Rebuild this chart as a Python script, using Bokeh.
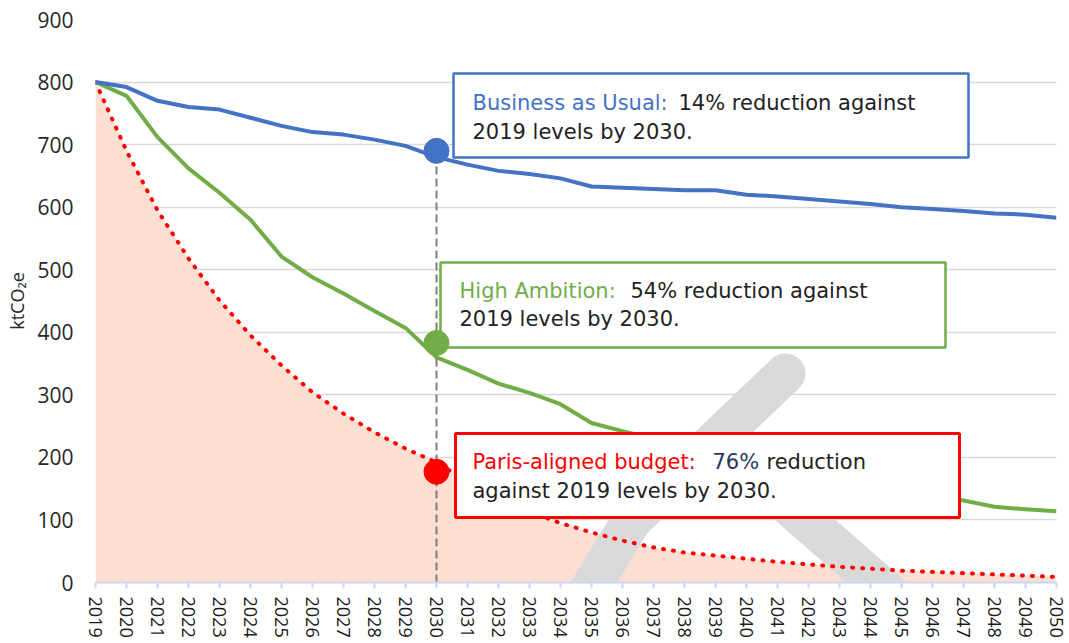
import numpy as np
from bokeh.plotting import figure
from bokeh.models import Range1d, FixedTicker, Label, BoxAnnotation
from bokeh.embed import file_html
from bokeh.resources import INLINE

# ---------------- data ----------------
years = list(range(2019, 2051))
business_as_usual = [800, 792, 770, 760, 756, 743, 730, 720, 716, 708, 698, 680, 668, 658, 653, 646,
                     633, 631, 629, 627, 627, 620, 617, 613, 609, 605, 600, 597, 594, 590, 588, 583]
high_ambition = [800, 778, 712, 662, 623, 580, 521, 488, 462, 434, 407, 360, 340, 318, 303, 285,
                 255, 242, 230, 219, 208, 198, 188, 178, 168, 158, 149, 140, 131, 121, 117, 114]
paris_budget = [800, 690, 595, 518, 451, 395, 347, 304, 270, 240, 214, 192, 161, 135, 113, 95,
                80, 67, 56, 48, 43, 38, 33, 29, 25, 22, 19, 17, 15, 13, 11, 9]
marker_year = 2030
marker_values = [690, 383, 177]          # BAU, High Ambition, Paris
y_ticks = list(range(0, 1000, 100))

# ---------------- layout helpers (page pixels -> data) ----------------
W, H = 1069, 643
FRAME_L, FRAME_R, FRAME_T, FRAME_B = 95, 1056, 19, 582
X0, X1, Y0, Y1 = 2019, 2050, 0, 900


def px_x(px):
    return X0 + (px - FRAME_L) * (X1 - X0) / (FRAME_R - FRAME_L)


def px_y(py):
    return Y0 + (FRAME_B - py) * (Y1 - Y0) / (FRAME_B - FRAME_T)


BLUE, GREEN, RED = "#4472C4", "#70AD47", "#FF0000"
DARK, NAVY = "#222222", "#1F3864"
PINK, GREY = "#FCDFD2", "#D9D9D9"

p = figure(width=W, height=H, x_range=Range1d(X0, X1), y_range=Range1d(Y0, Y1),
           output_backend="svg", toolbar_location=None,
           min_border_left=FRAME_L, min_border_right=W - FRAME_R,
           min_border_top=FRAME_T, min_border_bottom=H - FRAME_B)
p.outline_line_color = None
p.background_fill_color = "white"
p.border_fill_color = "white"

p.xgrid.grid_line_color = None
p.ygrid.grid_line_color = GREY
p.ygrid.grid_line_width = 1.5

p.yaxis.ticker = FixedTicker(ticks=y_ticks)
p.yaxis.axis_line_color = None
p.yaxis.major_tick_line_color = None
p.yaxis.minor_tick_line_color = None
p.yaxis.major_label_text_font = "Open Sans"
p.yaxis.major_label_text_font_size = "21px"
p.yaxis.major_label_text_color = "#262626"
p.yaxis.major_label_standoff = 16
p.yaxis.axis_label = "ktCO₂e"
p.yaxis.axis_label_text_font = "Open Sans"
p.yaxis.axis_label_text_font_size = "18px"
p.yaxis.axis_label_text_font_style = "normal"
p.yaxis.axis_label_text_color = "#262626"
p.yaxis.axis_label_standoff = 5

p.xaxis.ticker = FixedTicker(ticks=years)
p.xaxis.axis_line_color = "#C9D6F2"
p.xaxis.axis_line_width = 2
p.xaxis.major_tick_line_color = "#C9D6F2"
p.xaxis.major_tick_line_width = 2
p.xaxis.major_tick_in = 0
p.xaxis.major_tick_out = 6
p.xaxis.minor_tick_line_color = None
p.xaxis.major_label_orientation = "vertical"
p.xaxis.major_label_text_font = "Open Sans"
p.xaxis.major_label_text_font_size = "18px"
p.xaxis.major_label_text_color = "#1a1a1a"
p.xaxis.major_label_standoff = 8

# pink budget area
p.varea(x=years, y1=[0] * len(years), y2=paris_budget, fill_color=PINK)

# grey watermark strokes (decoration)
p.line(x=[px_x(785), px_x(631), px_x(556), px_x(545)],
       y=[px_y(373), px_y(520), px_y(643), px_y(660)],
       line_color=GREY, line_width=40, line_cap="round", line_join="round")
p.line(x=[px_x(740), px_x(1000)], y=[px_y(463), px_y(690)], line_color=GREY,
       line_width=40, line_cap="round")

# series lines
p.line(years, paris_budget, line_color=RED, line_width=4, line_dash="1 9", line_cap="round")
p.line(years, high_ambition, line_color=GREEN, line_width=4, line_join="round")
p.line(years, business_as_usual, line_color=BLUE, line_width=4, line_join="round")

# 2030 dashed guide
p.line([marker_year, marker_year], [0, marker_values[0]], line_color="#7F7F7F",
       line_width=2, line_dash="8 4")

# annotation boxes
boxes = [
    (453, 968, 73, 157, BLUE, 2.5),
    (440, 945, 262, 347, GREEN, 2.5),
    (455, 959, 433, 517, RED, 3),
]
for l, r, t, b, c, w in boxes:
    p.add_layout(BoxAnnotation(left=px_x(l), right=px_x(r), top=px_y(t), bottom=px_y(b),
                               fill_color="white", fill_alpha=1, line_color=c, line_width=w,
                               line_alpha=1))

texts = [
    ("Business as Usual:", 472, 102, BLUE),
    ("14% reduction against", 678, 102, DARK),
    ("2019 levels by 2030.", 472, 131, DARK),
    ("High Ambition:", 459, 290, GREEN),
    ("54% reduction against", 630, 290, DARK),
    ("2019 levels by 2030.", 459, 318, DARK),
    ("Paris-aligned budget:", 472, 461, RED),
    ("76%", 712, 461, NAVY),
    ("reduction", 766, 461, DARK),
    ("against 2019 levels by 2030.", 472, 490, DARK),
]
for txt, x, y, c in texts:
    p.add_layout(Label(x=px_x(x), y=px_y(y), text=txt, text_color=c, text_font="DejaVu Sans",
                       text_font_size="21px", text_baseline="alphabetic", text_align="left"))

# 2030 markers
for v, c in zip(marker_values, [BLUE, GREEN, RED]):
    p.scatter([marker_year], [v], size=25, fill_color=c, line_color=c, level="overlay")

open("out.html", "w").write(file_html(p, INLINE))
